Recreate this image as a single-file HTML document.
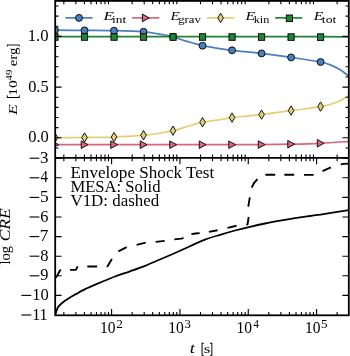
<!DOCTYPE html><html><head><meta charset="utf-8"><style>html,body{margin:0;padding:0;background:#fff;width:350px;height:356px;overflow:hidden}</style></head><body><svg width="350" height="356" viewBox="0 0 350 356" style="display:block;will-change:transform">
<defs><clipPath id="ct"><rect x="55.20" y="0.90" width="293.60" height="157.00"/></clipPath>
<clipPath id="cb"><rect x="55.20" y="157.90" width="293.60" height="157.40"/></clipPath></defs>
<rect width="350" height="356" fill="#fff"/>
<g clip-path="url(#ct)" fill="none" stroke-linejoin="round" stroke-linecap="butt">
<path d="M55.30,30.10 C60.17,30.15 74.75,30.30 84.50,30.40 C94.25,30.50 103.98,30.47 113.80,30.70 C123.62,30.93 136.03,31.27 143.40,31.80 C150.77,32.33 153.12,33.10 158.00,33.90 C162.88,34.70 168.20,35.43 172.70,36.60 C177.20,37.77 181.28,39.73 185.00,40.90 C188.72,42.07 192.08,42.80 195.00,43.60 C197.92,44.40 199.17,44.98 202.50,45.70 C205.83,46.42 210.08,47.13 215.00,47.90 C219.92,48.67 224.27,49.38 232.00,50.30 C239.73,51.22 251.57,52.22 261.40,53.40 C271.23,54.58 281.13,55.97 291.00,57.40 C300.87,58.83 313.77,60.63 320.60,62.00 C327.43,63.37 328.60,64.22 332.00,65.60 C335.40,66.98 338.17,68.50 341.00,70.30 C343.83,72.10 347.67,75.38 349.00,76.40" stroke="#4a7fc0" stroke-width="1.7"/>
<path d="M55.30,144.70 C84.70,144.70 197.45,144.72 231.70,144.70 C265.95,144.68 250.98,144.68 260.80,144.60 C270.62,144.52 280.73,144.42 290.60,144.20 C300.47,143.98 310.27,143.77 320.00,143.30 C329.73,142.83 344.17,141.72 349.00,141.40" stroke="#d9677c" stroke-width="1.7"/>
<path d="M55.30,137.60 C60.18,137.58 74.80,137.58 84.60,137.50 C94.40,137.42 104.30,137.48 114.10,137.10 C123.90,136.72 136.08,135.80 143.40,135.20 C150.72,134.60 153.08,134.25 158.00,133.50 C162.92,132.75 167.90,131.90 172.90,130.70 C177.90,129.50 183.07,127.72 188.00,126.30 C192.93,124.88 197.67,123.23 202.50,122.20 C207.33,121.17 212.08,120.87 217.00,120.10 C221.92,119.33 227.17,118.27 232.00,117.60 C236.83,116.93 241.08,116.60 246.00,116.10 C250.92,115.60 254.00,115.52 261.50,114.60 C269.00,113.68 281.15,111.93 291.00,110.60 C300.85,109.27 313.60,107.80 320.60,106.60 C327.60,105.40 329.60,104.47 333.00,103.40 C336.40,102.33 338.33,101.57 341.00,100.20 C343.67,98.83 347.67,96.03 349.00,95.20" stroke="#e3cf78" stroke-width="1.7"/>
<path d="M55.30,36.60 C79.42,36.60 155.88,36.58 200.00,36.60 C244.12,36.62 295.17,36.65 320.00,36.70 C344.83,36.75 344.17,36.87 349.00,36.90" stroke="#1f8436" stroke-width="1.7"/>
</g>
<g clip-path="url(#ct)">
<circle cx="55.00" cy="30.10" r="3.45" fill="#4a7fc0" stroke="#000" stroke-width="0.9"/>
<circle cx="84.51" cy="30.40" r="3.45" fill="#4a7fc0" stroke="#000" stroke-width="0.9"/>
<circle cx="114.02" cy="30.71" r="3.45" fill="#4a7fc0" stroke="#000" stroke-width="0.9"/>
<circle cx="143.53" cy="31.82" r="3.45" fill="#4a7fc0" stroke="#000" stroke-width="0.9"/>
<circle cx="173.04" cy="36.72" r="3.45" fill="#4a7fc0" stroke="#000" stroke-width="0.9"/>
<circle cx="202.55" cy="45.71" r="3.45" fill="#4a7fc0" stroke="#000" stroke-width="0.9"/>
<circle cx="232.06" cy="50.31" r="3.45" fill="#4a7fc0" stroke="#000" stroke-width="0.9"/>
<circle cx="261.57" cy="53.42" r="3.45" fill="#4a7fc0" stroke="#000" stroke-width="0.9"/>
<circle cx="291.08" cy="57.41" r="3.45" fill="#4a7fc0" stroke="#000" stroke-width="0.9"/>
<circle cx="320.59" cy="62.00" r="3.45" fill="#4a7fc0" stroke="#000" stroke-width="0.9"/>
<path d="M51.70,140.90 L58.50,144.70 L51.70,148.50 Z" fill="#d9677c" stroke="#000" stroke-width="0.9" stroke-linejoin="miter"/>
<path d="M81.21,140.90 L88.01,144.70 L81.21,148.50 Z" fill="#d9677c" stroke="#000" stroke-width="0.9" stroke-linejoin="miter"/>
<path d="M110.72,140.90 L117.52,144.70 L110.72,148.50 Z" fill="#d9677c" stroke="#000" stroke-width="0.9" stroke-linejoin="miter"/>
<path d="M140.23,140.90 L147.03,144.70 L140.23,148.50 Z" fill="#d9677c" stroke="#000" stroke-width="0.9" stroke-linejoin="miter"/>
<path d="M169.74,140.90 L176.54,144.70 L169.74,148.50 Z" fill="#d9677c" stroke="#000" stroke-width="0.9" stroke-linejoin="miter"/>
<path d="M199.25,140.90 L206.05,144.70 L199.25,148.50 Z" fill="#d9677c" stroke="#000" stroke-width="0.9" stroke-linejoin="miter"/>
<path d="M228.76,140.90 L235.56,144.70 L228.76,148.50 Z" fill="#d9677c" stroke="#000" stroke-width="0.9" stroke-linejoin="miter"/>
<path d="M258.27,140.79 L265.07,144.59 L258.27,148.39 Z" fill="#d9677c" stroke="#000" stroke-width="0.9" stroke-linejoin="miter"/>
<path d="M287.78,140.39 L294.58,144.19 L287.78,147.99 Z" fill="#d9677c" stroke="#000" stroke-width="0.9" stroke-linejoin="miter"/>
<path d="M317.29,139.46 L324.09,143.26 L317.29,147.06 Z" fill="#d9677c" stroke="#000" stroke-width="0.9" stroke-linejoin="miter"/>
<path d="M55.00,132.90 L57.80,137.60 L55.00,142.30 L52.20,137.60 Z" fill="#e3cf78" stroke="#000" stroke-width="0.9" stroke-linejoin="miter"/>
<path d="M84.51,132.80 L87.31,137.50 L84.51,142.20 L81.71,137.50 Z" fill="#e3cf78" stroke="#000" stroke-width="0.9" stroke-linejoin="miter"/>
<path d="M114.02,132.40 L116.82,137.10 L114.02,141.80 L111.22,137.10 Z" fill="#e3cf78" stroke="#000" stroke-width="0.9" stroke-linejoin="miter"/>
<path d="M143.53,130.48 L146.33,135.18 L143.53,139.88 L140.73,135.18 Z" fill="#e3cf78" stroke="#000" stroke-width="0.9" stroke-linejoin="miter"/>
<path d="M173.04,125.96 L175.84,130.66 L173.04,135.36 L170.24,130.66 Z" fill="#e3cf78" stroke="#000" stroke-width="0.9" stroke-linejoin="miter"/>
<path d="M202.55,117.49 L205.35,122.19 L202.55,126.89 L199.75,122.19 Z" fill="#e3cf78" stroke="#000" stroke-width="0.9" stroke-linejoin="miter"/>
<path d="M232.06,112.89 L234.86,117.59 L232.06,122.29 L229.26,117.59 Z" fill="#e3cf78" stroke="#000" stroke-width="0.9" stroke-linejoin="miter"/>
<path d="M261.57,109.89 L264.37,114.59 L261.57,119.29 L258.77,114.59 Z" fill="#e3cf78" stroke="#000" stroke-width="0.9" stroke-linejoin="miter"/>
<path d="M291.08,105.89 L293.88,110.59 L291.08,115.29 L288.28,110.59 Z" fill="#e3cf78" stroke="#000" stroke-width="0.9" stroke-linejoin="miter"/>
<path d="M320.59,101.90 L323.39,106.60 L320.59,111.30 L317.79,106.60 Z" fill="#e3cf78" stroke="#000" stroke-width="0.9" stroke-linejoin="miter"/>
<rect x="51.90" y="33.70" width="6.2" height="6.6" fill="#1f8436" stroke="#000" stroke-width="0.9"/>
<rect x="81.41" y="33.70" width="6.2" height="6.6" fill="#1f8436" stroke="#000" stroke-width="0.9"/>
<rect x="110.92" y="33.70" width="6.2" height="6.6" fill="#1f8436" stroke="#000" stroke-width="0.9"/>
<rect x="140.43" y="33.70" width="6.2" height="6.6" fill="#1f8436" stroke="#000" stroke-width="0.9"/>
<rect x="169.94" y="33.70" width="6.2" height="6.6" fill="#1f8436" stroke="#000" stroke-width="0.9"/>
<rect x="199.45" y="33.70" width="6.2" height="6.6" fill="#1f8436" stroke="#000" stroke-width="0.9"/>
<rect x="228.96" y="33.73" width="6.2" height="6.6" fill="#1f8436" stroke="#000" stroke-width="0.9"/>
<rect x="258.47" y="33.75" width="6.2" height="6.6" fill="#1f8436" stroke="#000" stroke-width="0.9"/>
<rect x="287.98" y="33.78" width="6.2" height="6.6" fill="#1f8436" stroke="#000" stroke-width="0.9"/>
<rect x="317.49" y="33.80" width="6.2" height="6.6" fill="#1f8436" stroke="#000" stroke-width="0.9"/>
</g>
<g clip-path="url(#cb)" fill="none" stroke="#000" stroke-linejoin="round">
<path d="M55.20,315.50 C55.38,314.85 55.77,313.08 56.30,311.60 C56.83,310.12 57.18,308.25 58.40,306.60 C59.62,304.95 61.67,303.22 63.60,301.70 C65.53,300.18 67.87,298.80 70.00,297.50 C72.13,296.20 74.57,294.97 76.40,293.90 C78.23,292.83 79.23,292.03 81.00,291.10 C82.77,290.17 85.00,289.22 87.00,288.30 C89.00,287.38 90.83,286.55 93.00,285.60 C95.17,284.65 96.33,284.12 100.00,282.60 C103.67,281.08 110.00,278.38 115.00,276.50 C120.00,274.62 125.00,273.08 130.00,271.30 C135.00,269.52 140.00,267.77 145.00,265.80 C150.00,263.83 155.00,261.63 160.00,259.50 C165.00,257.37 170.00,255.22 175.00,253.00 C180.00,250.78 185.00,248.43 190.00,246.20 C195.00,243.97 200.00,241.50 205.00,239.60 C210.00,237.70 215.00,236.32 220.00,234.80 C225.00,233.28 230.00,231.83 235.00,230.50 C240.00,229.17 245.00,227.97 250.00,226.80 C255.00,225.63 260.00,224.52 265.00,223.50 C270.00,222.48 275.00,221.58 280.00,220.70 C285.00,219.82 290.00,218.98 295.00,218.20 C300.00,217.42 305.00,216.72 310.00,216.00 C315.00,215.28 318.50,214.88 325.00,213.90 C331.50,212.92 345.00,210.73 349.00,210.10" stroke-width="1.8"/>
<path d="M55.60,277.60 L57.20,275.80 L59.90,270.50 L61.00,269.90 M70.10,269.90 L75.90,269.90 L77.60,266.40 M87.30,266.50 L97.10,266.50 M107.10,266.90 L111.90,258.90 M118.40,251.40 L126.70,247.10 M136.60,244.90 L145.70,242.70 M155.70,241.90 L164.70,240.90 M174.30,239.40 L181.50,238.60 L183.50,237.80 M191.40,234.10 L195.50,233.50 L199.70,233.10 M208.90,231.90 L217.50,230.30 M227.50,227.90 L236.50,225.80 M246.40,224.90 L247.60,224.20 L248.70,217.00 M248.30,206.60 L249.80,197.30 M251.70,187.60 L254.00,183.00 L257.40,179.20 M265.40,174.70 L275.20,174.70 M284.40,174.70 L294.20,174.70 M304.00,174.90 L313.60,174.90 M322.50,171.10 L330.80,167.30 M340.70,164.40 L344.00,163.90 L349.00,163.60" stroke-width="1.9"/>
</g>
<path d="M63.84,0.90 V4.20 M75.87,0.90 V4.20 M84.41,0.90 V4.20 M91.03,0.90 V4.20 M96.44,0.90 V4.20 M101.02,0.90 V4.20 M104.98,0.90 V4.20 M108.47,0.90 V4.20 M132.17,0.90 V4.20 M144.20,0.90 V4.20 M152.74,0.90 V4.20 M159.36,0.90 V4.20 M164.77,0.90 V4.20 M169.35,0.90 V4.20 M173.31,0.90 V4.20 M176.80,0.90 V4.20 M200.50,0.90 V4.20 M212.53,0.90 V4.20 M221.07,0.90 V4.20 M227.69,0.90 V4.20 M233.10,0.90 V4.20 M237.68,0.90 V4.20 M241.64,0.90 V4.20 M245.13,0.90 V4.20 M268.83,0.90 V4.20 M280.86,0.90 V4.20 M289.40,0.90 V4.20 M296.02,0.90 V4.20 M301.43,0.90 V4.20 M306.01,0.90 V4.20 M309.97,0.90 V4.20 M313.46,0.90 V4.20 M337.16,0.90 V4.20 M63.84,157.90 V154.60 M75.87,157.90 V154.60 M84.41,157.90 V154.60 M91.03,157.90 V154.60 M96.44,157.90 V154.60 M101.02,157.90 V154.60 M104.98,157.90 V154.60 M108.47,157.90 V154.60 M132.17,157.90 V154.60 M144.20,157.90 V154.60 M152.74,157.90 V154.60 M159.36,157.90 V154.60 M164.77,157.90 V154.60 M169.35,157.90 V154.60 M173.31,157.90 V154.60 M176.80,157.90 V154.60 M200.50,157.90 V154.60 M212.53,157.90 V154.60 M221.07,157.90 V154.60 M227.69,157.90 V154.60 M233.10,157.90 V154.60 M237.68,157.90 V154.60 M241.64,157.90 V154.60 M245.13,157.90 V154.60 M268.83,157.90 V154.60 M280.86,157.90 V154.60 M289.40,157.90 V154.60 M296.02,157.90 V154.60 M301.43,157.90 V154.60 M306.01,157.90 V154.60 M309.97,157.90 V154.60 M313.46,157.90 V154.60 M337.16,157.90 V154.60 M111.60,157.90 V164.30 M179.93,157.90 V164.30 M248.26,157.90 V164.30 M316.59,157.90 V164.30 M63.84,157.90 V161.20 M75.87,157.90 V161.20 M84.41,157.90 V161.20 M91.03,157.90 V161.20 M96.44,157.90 V161.20 M101.02,157.90 V161.20 M104.98,157.90 V161.20 M108.47,157.90 V161.20 M132.17,157.90 V161.20 M144.20,157.90 V161.20 M152.74,157.90 V161.20 M159.36,157.90 V161.20 M164.77,157.90 V161.20 M169.35,157.90 V161.20 M173.31,157.90 V161.20 M176.80,157.90 V161.20 M200.50,157.90 V161.20 M212.53,157.90 V161.20 M221.07,157.90 V161.20 M227.69,157.90 V161.20 M233.10,157.90 V161.20 M237.68,157.90 V161.20 M241.64,157.90 V161.20 M245.13,157.90 V161.20 M268.83,157.90 V161.20 M280.86,157.90 V161.20 M289.40,157.90 V161.20 M296.02,157.90 V161.20 M301.43,157.90 V161.20 M306.01,157.90 V161.20 M309.97,157.90 V161.20 M313.46,157.90 V161.20 M337.16,157.90 V161.20 M111.60,315.30 V308.90 M179.93,315.30 V308.90 M248.26,315.30 V308.90 M316.59,315.30 V308.90 M63.84,315.30 V312.00 M75.87,315.30 V312.00 M84.41,315.30 V312.00 M91.03,315.30 V312.00 M96.44,315.30 V312.00 M101.02,315.30 V312.00 M104.98,315.30 V312.00 M108.47,315.30 V312.00 M132.17,315.30 V312.00 M144.20,315.30 V312.00 M152.74,315.30 V312.00 M159.36,315.30 V312.00 M164.77,315.30 V312.00 M169.35,315.30 V312.00 M173.31,315.30 V312.00 M176.80,315.30 V312.00 M200.50,315.30 V312.00 M212.53,315.30 V312.00 M221.07,315.30 V312.00 M227.69,315.30 V312.00 M233.10,315.30 V312.00 M237.68,315.30 V312.00 M241.64,315.30 V312.00 M245.13,315.30 V312.00 M268.83,315.30 V312.00 M280.86,315.30 V312.00 M289.40,315.30 V312.00 M296.02,315.30 V312.00 M301.43,315.30 V312.00 M306.01,315.30 V312.00 M309.97,315.30 V312.00 M313.46,315.30 V312.00 M337.16,315.30 V312.00 M55.20,147.94 H58.50 M348.80,147.94 H345.50 M55.20,137.80 H61.60 M348.80,137.80 H342.40 M55.20,127.66 H58.50 M348.80,127.66 H345.50 M55.20,117.52 H58.50 M348.80,117.52 H345.50 M55.20,107.38 H58.50 M348.80,107.38 H345.50 M55.20,97.24 H58.50 M348.80,97.24 H345.50 M55.20,87.10 H61.60 M348.80,87.10 H342.40 M55.20,76.96 H58.50 M348.80,76.96 H345.50 M55.20,66.82 H58.50 M348.80,66.82 H345.50 M55.20,56.68 H58.50 M348.80,56.68 H345.50 M55.20,46.54 H58.50 M348.80,46.54 H345.50 M55.20,36.40 H61.60 M348.80,36.40 H342.40 M55.20,26.26 H58.50 M348.80,26.26 H345.50 M55.20,16.12 H58.50 M348.80,16.12 H345.50 M55.20,5.98 H58.50 M348.80,5.98 H345.50 M55.20,295.40 H61.60 M348.80,295.40 H342.40 M55.20,275.80 H61.60 M348.80,275.80 H342.40 M55.20,256.20 H61.60 M348.80,256.20 H342.40 M55.20,236.60 H61.60 M348.80,236.60 H342.40 M55.20,217.00 H61.60 M348.80,217.00 H342.40 M55.20,197.40 H61.60 M348.80,197.40 H342.40 M55.20,177.80 H61.60 M348.80,177.80 H342.40 M55.20,158.20 H61.60 M348.80,158.20 H342.40" stroke="#000" stroke-width="1.1" fill="none"/>
<rect x="55.20" y="0.90" width="293.60" height="314.40" fill="none" stroke="#000" stroke-width="1.8"/>
<path d="M55.20,157.90 H348.80" stroke="#000" stroke-width="1.8"/>
<g stroke-width="1.7">
<path d="M65.4,17.9 H92.6" stroke="#4a7fc0"/>
<circle cx="79.00" cy="17.90" r="3.45" fill="#4a7fc0" stroke="#000" stroke-width="0.9"/>
<path d="M132.2,17.9 H159.3" stroke="#d9677c"/>
<path d="M142.40,14.10 L149.20,17.90 L142.40,21.70 Z" fill="#d9677c" stroke="#000" stroke-width="0.9" stroke-linejoin="miter"/>
<path d="M206.9,17.9 H234.3" stroke="#e3cf78"/>
<path d="M220.60,13.20 L223.40,17.90 L220.60,22.60 L217.80,17.90 Z" fill="#e3cf78" stroke="#000" stroke-width="0.9" stroke-linejoin="miter"/>
<path d="M275.2,17.9 H302.4" stroke="#1f8436"/>
<rect x="286.30" y="15.00" width="6.2" height="6.6" fill="#1f8436" stroke="#000" stroke-width="0.9"/>
</g>
<text transform="translate(103.51,19.90) scale(1.3374,1)" style="font-family:&quot;Liberation Serif&quot;,serif;font-size:12.8px;font-style:italic;" fill="#000">E</text>
<text transform="translate(112.03,22.60) scale(1.2760,1)" style="font-family:&quot;Liberation Serif&quot;,serif;font-size:10.5px;" fill="#000">int</text>
<text transform="translate(170.49,19.90) scale(1.1960,1)" style="font-family:&quot;Liberation Serif&quot;,serif;font-size:12.8px;font-style:italic;" fill="#000">E</text>
<text transform="translate(178.26,22.60) scale(1.2131,1)" style="font-family:&quot;Liberation Serif&quot;,serif;font-size:10.5px;" fill="#000">grav</text>
<text transform="translate(245.50,19.90) scale(1.2474,1)" style="font-family:&quot;Liberation Serif&quot;,serif;font-size:12.8px;font-style:italic;" fill="#000">E</text>
<text transform="translate(253.76,22.60) scale(1.1651,1)" style="font-family:&quot;Liberation Serif&quot;,serif;font-size:10.5px;" fill="#000">kin</text>
<text transform="translate(313.80,19.90) scale(1.2474,1)" style="font-family:&quot;Liberation Serif&quot;,serif;font-size:12.8px;font-style:italic;" fill="#000">E</text>
<text transform="translate(321.86,22.60) scale(1.3187,1)" style="font-family:&quot;Liberation Serif&quot;,serif;font-size:10.5px;" fill="#000">tot</text>
<text transform="translate(27.74,40.80) scale(1.0252,1)" style="font-family:&quot;Liberation Serif&quot;,serif;font-size:16.3px;" fill="#000">1.0</text>
<text transform="translate(28.19,91.90) scale(1.0046,1)" style="font-family:&quot;Liberation Serif&quot;,serif;font-size:16.3px;" fill="#000">0.5</text>
<text transform="translate(28.18,142.40) scale(1.0129,1)" style="font-family:&quot;Liberation Serif&quot;,serif;font-size:16.3px;" fill="#000">0.0</text>
<rect x="29.60" y="157.65" width="9.70" height="1.1" fill="#000"/>
<text transform="translate(40.09,162.80) scale(1.0411,1)" style="font-family:&quot;Liberation Serif&quot;,serif;font-size:16.3px;" fill="#000">3</text>
<rect x="29.60" y="177.25" width="9.70" height="1.1" fill="#000"/>
<text transform="translate(40.60,182.40) scale(0.9235,1)" style="font-family:&quot;Liberation Serif&quot;,serif;font-size:16.3px;" fill="#000">4</text>
<rect x="29.60" y="196.85" width="9.70" height="1.1" fill="#000"/>
<text transform="translate(39.90,202.00) scale(1.0670,1)" style="font-family:&quot;Liberation Serif&quot;,serif;font-size:16.3px;" fill="#000">5</text>
<rect x="29.60" y="216.45" width="9.70" height="1.1" fill="#000"/>
<text transform="translate(40.20,221.60) scale(1.0046,1)" style="font-family:&quot;Liberation Serif&quot;,serif;font-size:16.3px;" fill="#000">6</text>
<rect x="29.60" y="236.05" width="9.70" height="1.1" fill="#000"/>
<text transform="translate(39.78,241.20) scale(1.0604,1)" style="font-family:&quot;Liberation Serif&quot;,serif;font-size:16.3px;" fill="#000">7</text>
<rect x="29.60" y="255.65" width="9.70" height="1.1" fill="#000"/>
<text transform="translate(40.28,260.80) scale(1.0105,1)" style="font-family:&quot;Liberation Serif&quot;,serif;font-size:16.3px;" fill="#000">8</text>
<rect x="29.60" y="275.25" width="9.70" height="1.1" fill="#000"/>
<text transform="translate(40.37,280.40) scale(1.0046,1)" style="font-family:&quot;Liberation Serif&quot;,serif;font-size:16.3px;" fill="#000">9</text>
<rect x="21.40" y="294.85" width="9.90" height="1.1" fill="#000"/>
<text transform="translate(32.15,300.20) scale(1.0167,1)" style="font-family:&quot;Liberation Serif&quot;,serif;font-size:16.3px;" fill="#000">10</text>
<rect x="21.40" y="314.45" width="9.90" height="1.1" fill="#000"/>
<text transform="translate(32.19,319.80) scale(0.9861,1)" style="font-family:&quot;Liberation Serif&quot;,serif;font-size:16.3px;" fill="#000">11</text>
<text transform="translate(99.94,333.30) scale(0.9535,1)" style="font-family:&quot;Liberation Serif&quot;,serif;font-size:16.3px;" fill="#000">10</text>
<text transform="translate(116.20,327.50) scale(1.0600,1)" style="font-family:&quot;Liberation Serif&quot;,serif;font-size:12.5px;" fill="#000">2</text>
<text transform="translate(168.27,333.30) scale(0.9535,1)" style="font-family:&quot;Liberation Serif&quot;,serif;font-size:16.3px;" fill="#000">10</text>
<text transform="translate(184.52,327.50) scale(1.0279,1)" style="font-family:&quot;Liberation Serif&quot;,serif;font-size:12.5px;" fill="#000">3</text>
<text transform="translate(236.60,333.30) scale(0.9535,1)" style="font-family:&quot;Liberation Serif&quot;,serif;font-size:16.3px;" fill="#000">10</text>
<text transform="translate(253.23,327.50) scale(0.9118,1)" style="font-family:&quot;Liberation Serif&quot;,serif;font-size:12.5px;" fill="#000">4</text>
<text transform="translate(304.93,333.30) scale(0.9535,1)" style="font-family:&quot;Liberation Serif&quot;,serif;font-size:16.3px;" fill="#000">10</text>
<text transform="translate(321.03,327.50) scale(1.0534,1)" style="font-family:&quot;Liberation Serif&quot;,serif;font-size:12.5px;" fill="#000">5</text>
<text transform="translate(189.86,352.60) scale(1.3017,1)" style="font-family:&quot;Liberation Serif&quot;,serif;font-size:14.3px;font-style:italic;" fill="#000">t</text>
<text transform="translate(201.09,352.60) scale(0.6089,1)" style="font-family:&quot;Liberation Serif&quot;,serif;font-size:15.5px;" fill="#000" stroke="#000" stroke-width="0.35">[</text>
<text transform="translate(203.72,352.60) scale(1.3789,1)" style="font-family:&quot;Liberation Serif&quot;,serif;font-size:12.3px;" fill="#000">s</text>
<text transform="translate(209.87,352.60) scale(0.6022,1)" style="font-family:&quot;Liberation Serif&quot;,serif;font-size:15.5px;" fill="#000" stroke="#000" stroke-width="0.35">]</text>
<g transform="translate(17.4,115.1) rotate(-90)"><text transform="translate(0.22,0.00) scale(1.3549,1)" style="font-family:&quot;Liberation Serif&quot;,serif;font-size:13.0px;font-style:italic;" fill="#000">E</text><text transform="translate(16.46,0.00) scale(0.7249,1)" style="font-family:&quot;Liberation Serif&quot;,serif;font-size:15.5px;" fill="#000" stroke="#000" stroke-width="0.35">[</text><text transform="translate(19.44,0.00) scale(1.1956,1)" style="font-family:&quot;Liberation Serif&quot;,serif;font-size:13.0px;" fill="#000">10</text><text transform="translate(34.68,-5.10) scale(1.3564,1)" style="font-family:&quot;Liberation Serif&quot;,serif;font-size:8.0px;" fill="#000">49</text><text transform="translate(48.80,0.00) scale(1.2295,1)" style="font-family:&quot;Liberation Serif&quot;,serif;font-size:12.2px;" fill="#000">erg</text><text transform="translate(68.32,0.00) scale(0.5161,1)" style="font-family:&quot;Liberation Serif&quot;,serif;font-size:15.5px;" fill="#000" stroke="#000" stroke-width="0.35">]</text></g>
<g transform="translate(9.5,264.3) rotate(-90)"><text transform="translate(-0.29,0.00) scale(1.0617,1)" style="font-family:&quot;Liberation Serif&quot;,serif;font-size:13.7px;" fill="#000">log</text><text transform="translate(22.94,0.00) scale(1.2771,1)" style="font-family:&quot;Liberation Serif&quot;,serif;font-size:13.7px;font-style:italic;" fill="#000">CRE</text></g>
<text transform="translate(70.39,177.70) scale(1.0505,1)" style="font-family:&quot;Liberation Serif&quot;,serif;font-size:16.3px;" fill="#000">Envelope Shock Test</text>
<text transform="translate(70.40,191.60) scale(1.0204,1)" style="font-family:&quot;Liberation Serif&quot;,serif;font-size:16.3px;" fill="#000">MESA: Solid</text>
<text transform="translate(70.43,206.00) scale(1.0386,1)" style="font-family:&quot;Liberation Serif&quot;,serif;font-size:16.3px;" fill="#000">V1D: dashed</text>
</svg></body></html>
